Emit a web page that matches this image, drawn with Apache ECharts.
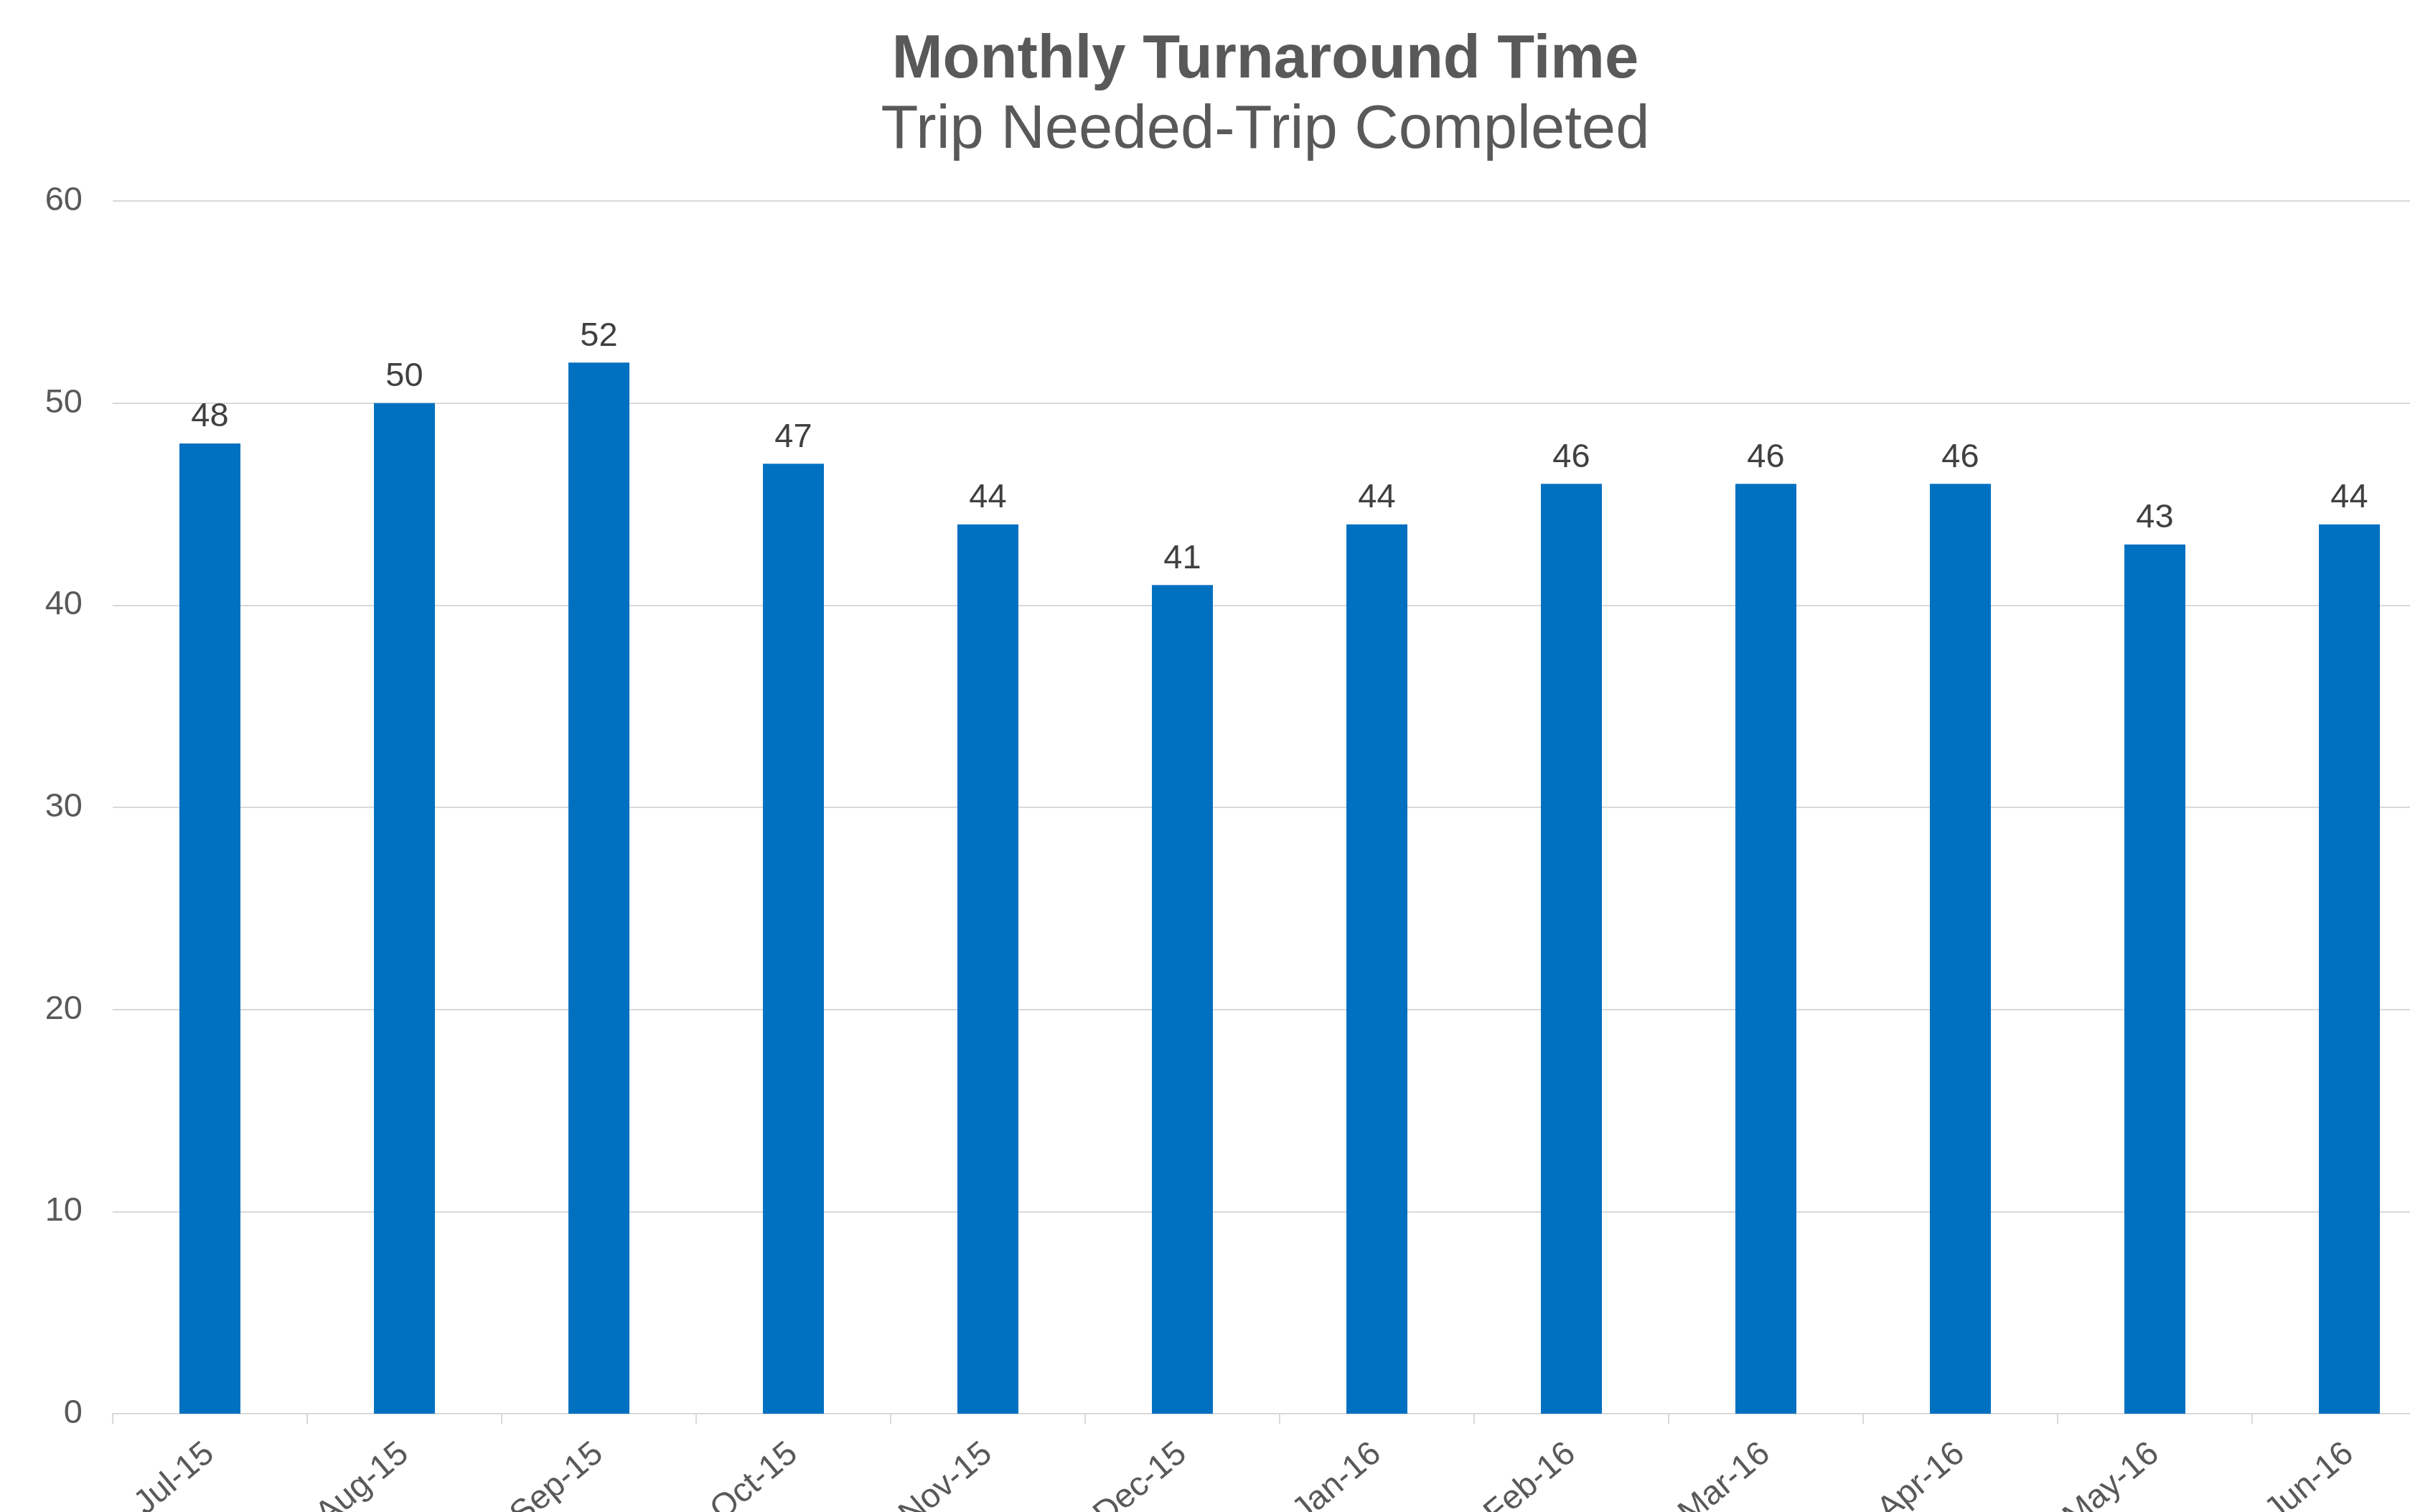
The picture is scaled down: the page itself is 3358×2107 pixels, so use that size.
<!DOCTYPE html>
<html>
<head>
<meta charset="utf-8">
<script src="https://cdn.jsdelivr.net/npm/echarts@6/dist/echarts.min.js"></script>
<style>
html,body{margin:0;padding:0;background:#fff;}
#chart{width:3358px;height:2107px;}
</style>
</head>
<body>
<div id="chart"></div>
<script>
const titleText = 'Monthly Turnaround Time';
const subtitleText = 'Trip Needed-Trip Completed';
const categories = ['Jul-15','Aug-15','Sep-15','Oct-15','Nov-15','Dec-15','Jan-16','Feb-16','Mar-16','Apr-16','May-16','Jun-16'];
const turnaroundValues = [48, 50, 52, 47, 44, 41, 44, 46, 46, 46, 43, 44];
const yMin = 0, yMax = 60, yInterval = 10;

const chart = echarts.init(document.getElementById('chart'), null, {renderer:'canvas'});
const font = 'Liberation Sans, Arial, sans-serif';
chart.setOption({
  animation: false,
  backgroundColor: '#ffffff',
  title: {
    text: titleText,
    subtext: subtitleText,
    left: 1758,
    top: 37,
    textAlign: 'center',
    itemGap: 13,
    textStyle: {fontFamily: font, fontSize: 85, fontWeight: 'bold', color: '#595959'},
    subtextStyle: {fontFamily: font, fontSize: 85, fontWeight: 'normal', color: '#595959'}
  },
  grid: {left: 157, top: 280, width: 3252, height: 1690, containLabel: false, outerBoundsMode: 'none'},
  xAxis: {
    type: 'category',
    data: categories,
    axisLine: {show: true, lineStyle: {color: '#d9d9d9', width: 2}},
    axisTick: {show: true, length: 14, lineStyle: {color: '#d9d9d9', width: 2}},
    axisLabel: {rotate: 40, margin: 50, fontFamily: font, fontSize: 47, color: '#595959'}
  },
  yAxis: {
    type: 'value',
    min: yMin, max: yMax, interval: yInterval,
    axisLine: {show: false},
    axisTick: {show: false},
    splitLine: {show: true, lineStyle: {color: '#d9d9d9', width: 2}},
    axisLabel: {margin: 42, fontFamily: font, fontSize: 47, color: '#595959'}
  },
  series: [{
    type: 'bar',
    data: turnaroundValues,
    barWidth: 85,
    itemStyle: {color: '#0070C0'},
    label: {show: true, position: 'top', distance: 13, fontFamily: font, fontSize: 47, color: '#404040'}
  }]
});
</script>
</body>
</html>
